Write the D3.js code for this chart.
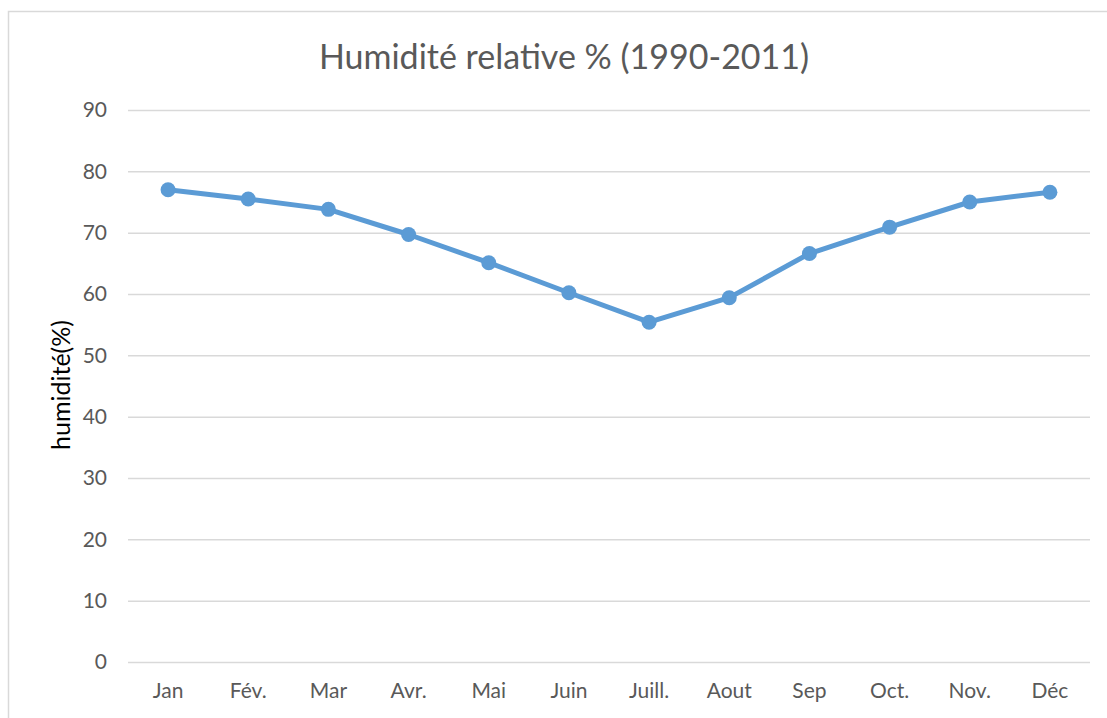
<!DOCTYPE html>
<html>
<head>
<meta charset="utf-8">
<script src="https://cdn.jsdelivr.net/npm/d3@7"></script>
<style>
  body { margin: 0; background: #fff; }
  svg text { font-family: Lato, "Open Sans", sans-serif; }
</style>
</head>
<body>
<div id="chart"></div>
<script>
const WIDTH = 1107; // page width
const HEIGHT = 718;

// data
const months = ["Jan", "Fév.", "Mar", "Avr.", "Mai", "Juin", "Juill.", "Aout", "Sep", "Oct.", "Nov.", "Déc"];
const humidity = [77.0, 75.5, 73.8, 69.7, 65.1, 60.2, 55.4, 59.4, 66.6, 70.9, 75.0, 76.6];
const yTicks = [0, 10, 20, 30, 40, 50, 60, 70, 80, 90];

const margin = {left: 128, right: 17, top: 110, bottom: 56};

var svg = d3.select("#chart")
  .append("svg")
  .attr("width", WIDTH)
  .attr("height", HEIGHT);

// chart frame (runs off the bottom/right of the picture)
svg.append("rect")
  .attr("x", 8.5)
  .attr("y", 11.5)
  .attr("width", WIDTH + 10)
  .attr("height", HEIGHT + 10)
  .attr("fill", "none")
  .attr("stroke", "#d9d9d9")
  .attr("stroke-width", 1.5);

var x = d3.scaleBand()
  .domain(months)
  .range([margin.left, WIDTH - margin.right]);

var y = d3.scaleLinear()
  .domain([0, 90])
  .range([HEIGHT - margin.bottom, margin.top]);

// gridlines
svg.append("g")
  .attr("transform", "translate(" + margin.left + ",0)")
  .call(d3.axisLeft(y).tickValues(yTicks).tickSize(-(WIDTH - margin.left - margin.right)).tickFormat(""))
  .call(g => g.select(".domain").remove())
  .selectAll("line")
  .attr("stroke", "#d9d9d9")
  .attr("stroke-width", 1.5);

// y tick labels
svg.append("g")
  .attr("transform", "translate(" + margin.left + ",0)")
  .call(d3.axisLeft(y).tickValues(yTicks).tickSize(0).tickPadding(21))
  .call(g => g.select(".domain").remove())
  .selectAll("text")
  .attr("fill", "#595959")
  .style("font-size", "21px");

// x tick labels
svg.append("g")
  .attr("transform", "translate(0," + (HEIGHT - margin.bottom) + ")")
  .call(d3.axisBottom(x).tickSize(0).tickPadding(21))
  .call(g => g.select(".domain").remove())
  .selectAll("text")
  .attr("fill", "#595959")
  .style("font-size", "21px");

// title
svg.append("text")
  .attr("x", 564)
  .attr("y", 69)
  .attr("text-anchor", "middle")
  .attr("fill", "#595959")
  .style("font-size", "34px")
  .text("Humidité relative % (1990-2011)");

// y axis title
svg.append("text")
  .attr("transform", "translate(70," + 385 + ") rotate(-90)")
  .attr("text-anchor", "middle")
  .attr("fill", "#000")
  .style("font-size", "25px")
  .text("humidité(%)");

var cx = (d, i) => x(months[i]) + x.bandwidth() / 2;

var line = d3.line()
  .x(cx)
  .y(d => y(d));

svg.append("path")
  .datum(humidity)
  .attr("d", line)
  .attr("fill", "none")
  .attr("stroke", "#5b9bd5")
  .attr("stroke-width", 5)
  .attr("stroke-linejoin", "round");

svg.selectAll(".dot")
  .data(humidity)
  .enter()
  .append("circle")
  .attr("class", "dot")
  .attr("cx", cx)
  .attr("cy", d => y(d))
  .attr("r", 7.5)
  .attr("fill", "#5b9bd5");
</script>
</body>
</html>
